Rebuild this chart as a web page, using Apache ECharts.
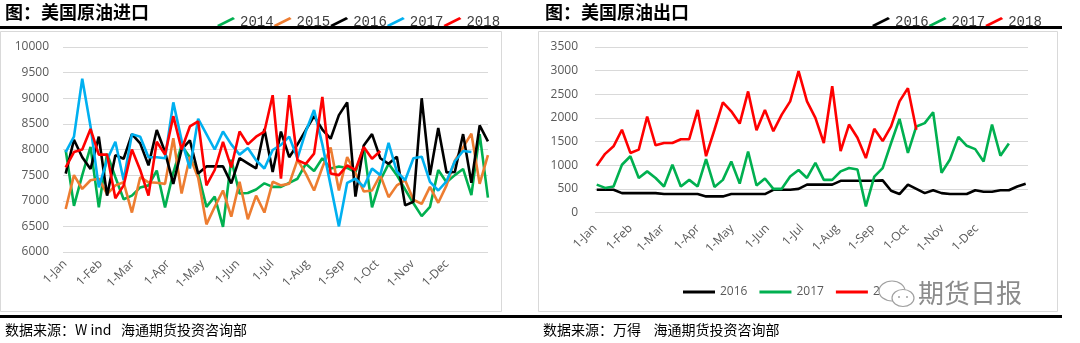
<!DOCTYPE html>
<html><head><meta charset="utf-8">
<script src="https://cdn.jsdelivr.net/npm/echarts@6/dist/echarts.min.js"></script>
<style>html,body{margin:0;padding:0;background:#fff}#c{width:1080px;height:343px}</style>
</head><body><div id="c"></div>
<script>
// ---- tick labels ----
const MONTH_LABELS = ['1-Jan','1-Feb','1-Mar','1-Apr','1-May','1-Jun','1-Jul','1-Aug','1-Sep','1-Oct','1-Nov','1-Dec'];
const MONTH_DAYS = [0,31,59,90,120,151,181,212,243,273,304,334];

// ---- left chart: US crude imports (weekly) ----
const IMP_YEARS = ['2014','2015','2016','2017','2018'];
const IMP_COLORS = ['#00b050','#ed7d31','#000000','#00b0f0','#ff0000'];
const IMP_2014 = [7990,6900,7500,8050,6870,7920,7460,7030,7100,7260, 7300,7590,6870,7550,8080,7850,7530,6880,7080,6490, 7800,7140,7150,7220,7340,7270,7270,7350,7430,7720, 7580,7830,7630,7670,7640,7560,8050,6870,7400,7720, 7500,7220,6950,6700,6880,7600,7360,7500,7620,7110, 8300,7060];
const IMP_2015 = [6840,7500,7230,7400,7430,7130,7300,7360,6770,7460, 7360,7350,7330,8220,7140,7860,7450,6540,6880,7200, 6690,7370,6640,7100,6770,7370,7300,7330,7800,7530, 7200,7650,8040,7200,7850,7540,7180,7200,7500,7070, 7300,7400,7020,6940,7270,6960,7300,7780,8040,8310, 7330,7890];
const IMP_2016 = [7530,8190,7850,7620,8250,7100,7890,7820,8300,8120, 7690,8380,7950,7330,8000,8180,7530,7670,7670,7670, 7340,7830,7730,7630,8400,7560,8350,7850,8100,8380, 8650,8390,8210,8670,8920,7080,8080,8300,7830,7720, 7860,6910,6980,9000,7500,8420,7550,7560,8300,7350, 8470,8160];
const IMP_2017 = [7950,8250,9380,8450,7260,7800,8150,7400,8300,8250, 7850,7850,7830,8920,8180,7630,8600,8300,8000,8350, 8100,7900,8030,7790,7630,7990,8090,8250,7830,8350, 8770,8100,7300,6500,7350,7430,7270,7630,7500,8130, 7570,7400,7830,7860,7370,7200,7380,7770,7970,7950];
const IMP_2018 = [7650,7950,8000,8400,7900,7900,7050,7300,8000,7600, 7100,8150,7900,8650,8000,8450,8550,7300,7600,8150, 7650,8350,8100,8250,8350,9060,7430,9060,7790,7720, 7920,9025,7530,7500,7690,7600,8050,7820,7970];
const IMP_DATA = [IMP_2014, IMP_2015, IMP_2016, IMP_2017, IMP_2018];
const IMP_Y = {min: 6000, max: 10000, interval: 500};

// ---- right chart: US crude exports (weekly) ----
const EXP_YEARS = ['2016','2017','2018'];
const EXP_COLORS = ['#000000','#00b050','#ff0000'];
const EXP_2016 = [480,480,480,410,410,410,410,410,390,390, 390,390,390,340,340,340,390,390,390,390, 390,480,480,480,500,590,590,590,590,670, 670,670,670,670,680,460,390,590,500,410, 470,410,390,390,390,470,440,440,470,470, 550,610];
const EXP_2017 = [590,520,550,1010,1190,730,870,730,550,1010, 550,690,550,1130,540,690,1080,610,1290,570, 720,500,500,760,900,730,1050,690,690,870, 940,910,130,760,940,1470,1980,1260,1820,1890, 2120,840,1120,1600,1410,1340,1080,1860,1200,1460];
const EXP_2018 = [990,1240,1400,1750,1260,1330,2030,1420,1470,1470, 1550,1550,2170,1190,1750,2330,2140,1880,2560,1740, 2170,1720,2070,2350,2990,2350,2000,1470,2670,1300, 1860,1580,1150,1770,1510,1820,2350,2630,1750];
const EXP_DATA = [EXP_2016, EXP_2017, EXP_2018];
const EXP_Y = {min: 0, max: 3500, interval: 500};

// day-of-year placement of weekly observations
const LEFT_FIRST_DAY = 0.6, LEFT_STEP = 7.24;
const RIGHT_FIRST_DAY = 1.5, RIGHT_STEP = 7.36;

const chart = echarts.init(document.getElementById('c'), null, {renderer: 'canvas'});
const AX_FONT = {fontFamily: '"Open Sans", "Liberation Sans", sans-serif', fontSize: 12, color: '#595959'};
const monthFmt = v => { const k = MONTH_DAYS.indexOf(v); return k >= 0 ? MONTH_LABELS[k] : ''; };
const slash = 'path://M0,8 L16,0 L18,2 L2,10 Z';

function xAxis(gi, min, max, margin) {
  return {
    type: 'value', gridIndex: gi, min: min, max: max,
    axisLine: {show: false}, axisTick: {show: false, customValues: MONTH_DAYS},
    splitLine: {show: false},
    axisLabel: Object.assign({rotate: 45, margin: margin, customValues: MONTH_DAYS, formatter: monthFmt}, AX_FONT)
  };
}
function yAxis(gi, cfg, margin) {
  return {
    type: 'value', gridIndex: gi, min: cfg.min, max: cfg.max, interval: cfg.interval,
    axisLine: {show: false}, axisTick: {show: false},
    splitLine: {lineStyle: {color: '#d9d9d9', width: 1}},
    axisLabel: Object.assign({margin: margin, formatter: v => String(v)}, AX_FONT)
  };
}

const series = [];
IMP_YEARS.forEach((y, k) => {
  series.push({
    name: y, type: 'line', xAxisIndex: 0, yAxisIndex: 0, symbol: 'none',
    lineStyle: {width: 2.6, color: IMP_COLORS[k]}, itemStyle: {color: IMP_COLORS[k]},
    data: IMP_DATA[k].map((v, i) => [LEFT_FIRST_DAY + i * LEFT_STEP, v]), z: 2 + k
  });
});
EXP_YEARS.forEach((y, k) => {
  series.push({
    name: y + ' ', type: 'line', xAxisIndex: 1, yAxisIndex: 1, symbol: 'none',
    lineStyle: {width: 2.6, color: EXP_COLORS[k]}, itemStyle: {color: EXP_COLORS[k]},
    data: EXP_DATA[k].map((v, i) => [RIGHT_FIRST_DAY + i * RIGHT_STEP, v]), z: 2 + k
  });
});

const TITLE_FONT = 'bold 18px "Noto Sans CJK SC", sans-serif';
const SRC_FONT = '14px "Noto Sans CJK SC", sans-serif';

chart.setOption({
  backgroundColor: '#ffffff',
  animation: false,
  grid: [
    {left: 63, top: 47, width: 425, height: 205},
    {left: 595, top: 47, width: 433, height: 165.5}
  ],
  xAxis: [xAxis(0, -1.75, 369.9, 10), xAxis(1, 0, 378.9, 14)],
  yAxis: [yAxis(0, IMP_Y, 14), yAxis(1, EXP_Y, 17)],
  legend: [
    {data: IMP_YEARS, left: 212, top: 10, icon: slash, itemWidth: 18, itemHeight: 10, itemGap: 0,
     textStyle: {fontFamily: '"Liberation Mono", monospace', fontSize: 14, color: '#404040'}},
    {data: EXP_YEARS.map(y => y + ' '), left: 867, top: 10, icon: slash, itemWidth: 18, itemHeight: 10, itemGap: 0,
     formatter: n => n.trim(),
     textStyle: {fontFamily: '"Liberation Mono", monospace', fontSize: 14, color: '#404040'}},
    {data: EXP_YEARS.map(y => y + ' '), left: 678, top: 281, icon: 'rect', itemWidth: 32, itemHeight: 3, itemGap: 12,
     formatter: n => n.trim(),
     textStyle: {fontFamily: '"Open Sans", sans-serif', fontSize: 12, color: '#595959'}}
  ],
  series: series,
  graphic: [
    {type: 'rect', z: 0, shape: {x: 0.5, y: 31.5, width: 501, height: 280}, style: {fill: 'none', stroke: '#d9d9d9', lineWidth: 1}},
    {type: 'rect', z: 0, shape: {x: 538.5, y: 31.5, width: 519, height: 280}, style: {fill: 'none', stroke: '#d9d9d9', lineWidth: 1}},
    {type: 'rect', z: 10, shape: {x: 0, y: 26, width: 1062, height: 3}, style: {fill: '#000'}},
    {type: 'rect', z: 10, shape: {x: 0, y: 315, width: 1062, height: 3}, style: {fill: '#000'}},
    {type: 'text', z: 10, x: 5, y: 3, style: {text: '图：美国原油进口', font: TITLE_FONT, fill: '#000'}},
    {type: 'text', z: 10, x: 545, y: 3, style: {text: '图：美国原油出口', font: TITLE_FONT, fill: '#000'}},
    {type: 'text', z: 10, x: 5, y: 323, style: {text: '数据来源：W ind   海通期货投资咨询部', font: SRC_FONT, fill: '#000'}},
    {type: 'text', z: 10, x: 543, y: 323, style: {text: '数据来源：万得    海通期货投资咨询部', font: SRC_FONT, fill: '#000'}},
    // watermark
    {type: 'ellipse', z: 20, shape: {cx: 892, cy: 291, rx: 13, ry: 10}, style: {fill: '#fff', stroke: '#a0a0a0', lineWidth: 1.2}},
    {type: 'ellipse', z: 21, shape: {cx: 903, cy: 298, rx: 11, ry: 8.5}, style: {fill: '#fff', stroke: '#a0a0a0', lineWidth: 1.2}},
    {type: 'circle', z: 22, shape: {cx: 899, cy: 297, r: 1}, style: {fill: '#a0a0a0'}},
    {type: 'circle', z: 22, shape: {cx: 907, cy: 297, r: 1}, style: {fill: '#a0a0a0'}},
    {type: 'text', z: 22, x: 918, y: 280, style: {text: '期货日报', font: '26px "Noto Sans CJK SC", sans-serif', fill: '#8c8c8c', stroke: '#fff', lineWidth: 1}}
  ]
});
</script></body></html>
